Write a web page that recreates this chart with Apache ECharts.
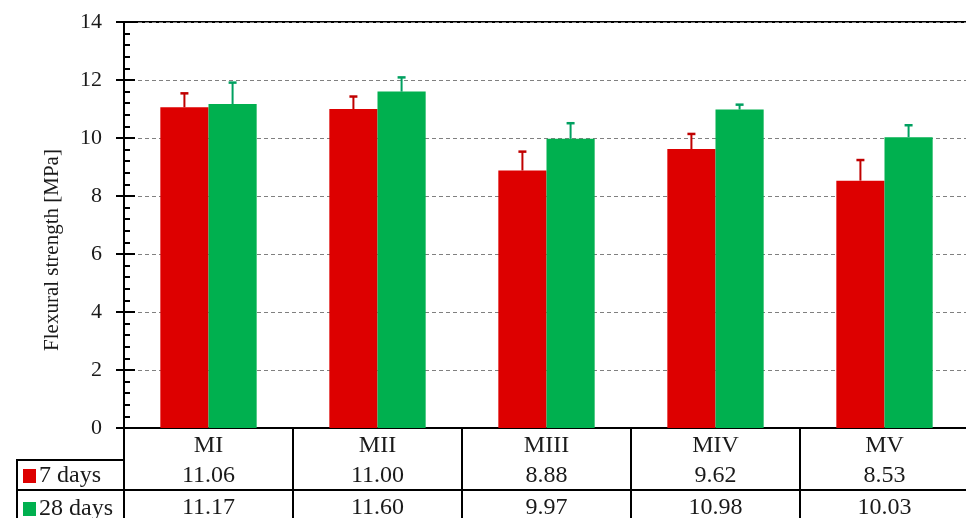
<!DOCTYPE html>
<html><head><meta charset="utf-8">
<script src="https://cdn.jsdelivr.net/npm/echarts@6/dist/echarts.min.js"></script>
<style>html,body{margin:0;padding:0;background:#fff}#c{width:966px;height:518px}</style>
</head><body><div id="c"></div>
<script>
const categories = ['MI','MII','MIII','MIV','MV'];
const days7 = [11.06, 11.00, 8.88, 9.62, 8.53];
const days28 = [11.17, 11.60, 9.97, 10.98, 10.03];
const err7 = [0.48, 0.43, 0.65, 0.52, 0.71];
const err28 = [0.74, 0.49, 0.54, 0.17, 0.41];
const seriesNames = ['7 days', '28 days'];
const yTicks = {min: 0, max: 14, interval: 2};

const FONT = 'Liberation Serif';
const TXT = '#1a1a1a';
const RED = '#dd0000', GREEN = '#00b04f';
const RED_ERR = '#c00000', GREEN_ERR = '#00a060';
const CAT_GAP = 0.43;
const TABLE_FS = 24;

const chart = echarts.init(document.getElementById('c'), null, {renderer: 'canvas'});

function errSeries(vals, errs, sign, color, name) {
  return {
    type: 'custom', name: name, xAxisIndex: 0, yAxisIndex: 0, z: 5,
    data: vals.map((v, i) => [i, v, errs[i]]),
    renderItem: function (params, api) {
      const i = api.value(0), v = api.value(1), e = api.value(2);
      const band = api.size([1, 0])[0];
      const bw = band * (1 - CAT_GAP) / 2;
      const base = api.coord([i, v]);
      const top = api.coord([i, v + e]);
      const x = base[0] + sign * bw / 2;
      const st = {stroke: color, lineWidth: 2};
      return {type: 'group', children: [
        {type: 'line', shape: {x1: x, y1: base[1], x2: x, y2: top[1]}, style: st},
        {type: 'line', shape: {x1: x - 4, y1: top[1], x2: x + 4, y2: top[1]}, style: {stroke: color, lineWidth: 2.5}}
      ]};
    }
  };
}

const fmt2 = v => Number(v).toFixed(2);

chart.setOption({
  animation: false,
  textStyle: {fontFamily: FONT, color: TXT},
  grid: {left: 124, right: -3, top: 22, bottom: 90, show: true, borderColor: '#000', borderWidth: 2,
         backgroundColor: 'transparent', containLabel: false, outerBoundsMode: 'none'},
  legend: {
    data: seriesNames, orient: 'vertical', left: 23, top: 464, height: 80, padding: 0, itemGap: 9,
    icon: 'rect', itemWidth: 13, itemHeight: 14,
    textStyle: {fontFamily: FONT, fontSize: TABLE_FS, color: TXT, padding: [0, 0, 0, -2]},
    selectedMode: false
  },
  xAxis: [
    {type: 'category', data: categories, position: 'bottom', gridIndex: 0,
     axisLine: {show: true, lineStyle: {color: '#000', width: 2}},
     axisTick: {show: true, length: 90, inside: false, lineStyle: {color: '#000', width: 2}},
     axisLabel: {fontFamily: FONT, fontSize: TABLE_FS, color: TXT, margin: 18, verticalAlign: 'middle'},
     splitLine: {show: false}},
    {type: 'category', data: days7.map(fmt2), position: 'bottom', offset: 32,
     axisLine: {show: true, lineStyle: {color: '#000', width: 2}},
     axisTick: {show: false},
     axisLabel: {fontFamily: FONT, fontSize: TABLE_FS, color: TXT, margin: 16, verticalAlign: 'middle'},
     splitLine: {show: false}},
    {type: 'category', data: days28.map(fmt2), position: 'bottom', offset: 62,
     axisLine: {show: true, lineStyle: {color: '#000', width: 2}},
     axisTick: {show: false},
     axisLabel: {fontFamily: FONT, fontSize: TABLE_FS, color: TXT, margin: 18, verticalAlign: 'middle'},
     splitLine: {show: false}}
  ],
  yAxis: [
    {type: 'value', min: yTicks.min, max: yTicks.max, interval: yTicks.interval, position: 'left',
     name: 'Flexural strength [MPa]', nameLocation: 'middle', nameGap: 61,
     nameTextStyle: {fontFamily: FONT, fontSize: 21, color: TXT, padding: [0, 50, 0, 0]},
     axisLine: {show: true, lineStyle: {color: '#000', width: 2}},
     axisTick: {show: true, inside: true, length: 11, lineStyle: {color: '#000', width: 2}},
     minorTick: {show: true, splitNumber: 5, length: 6, lineStyle: {color: '#000', width: 2}},
     axisLabel: {fontFamily: FONT, fontSize: 22, color: TXT, margin: 22},
     splitLine: {show: true, lineStyle: {color: '#808080', width: 1, type: [4, 3]}},
     minorSplitLine: {show: false}},
    {type: 'value', min: yTicks.min, max: yTicks.max, interval: yTicks.interval, position: 'left',
     axisLine: {show: false}, axisLabel: {show: false}, splitLine: {show: false},
     axisTick: {show: true, inside: false, length: 8, lineStyle: {color: '#000', width: 2}}}
  ],
  series: [
    {type: 'bar', name: seriesNames[0], data: days7, barGap: '0%', barCategoryGap: (CAT_GAP * 100) + '%',
     itemStyle: {color: RED}, z: 2},
    {type: 'bar', name: seriesNames[1], data: days28, barGap: '0%', barCategoryGap: (CAT_GAP * 100) + '%',
     itemStyle: {color: GREEN}, z: 2},
    errSeries(days7, err7, -1, RED_ERR, '7 days error'),
    errSeries(days28, err28, 1, GREEN_ERR, '28 days error')
  ],
  graphic: [
    {type: 'line', shape: {x1: 17, y1: 460, x2: 125, y2: 460}, style: {stroke: '#000', lineWidth: 2}},
    {type: 'line', shape: {x1: 17, y1: 490, x2: 125, y2: 490}, style: {stroke: '#000', lineWidth: 2}},
    {type: 'line', shape: {x1: 17, y1: 459, x2: 17, y2: 518}, style: {stroke: '#000', lineWidth: 2}}
  ]
});
</script></body></html>
